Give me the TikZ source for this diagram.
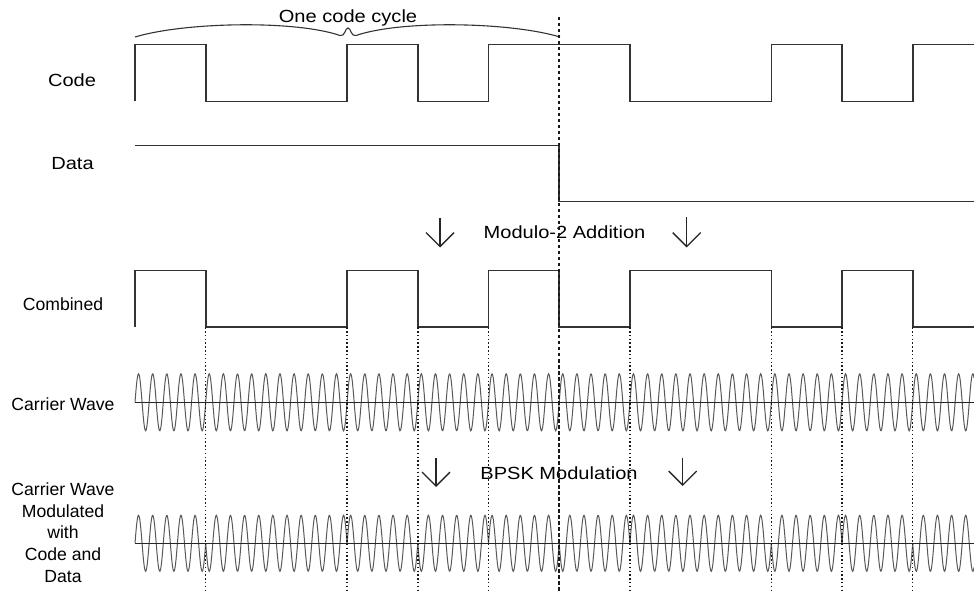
\documentclass[tikz,border=0pt]{standalone}
\usepackage{fontspec}
\setmainfont{Liberation Sans}
\newfontfamily\widefont{Liberation Sans}[FakeStretch=1.14]
\usetikzlibrary{arrows.meta}
\begin{document}
\begin{tikzpicture}[x=1pt,y=-1pt,
  wave/.style={draw=black!80,line width=1.6pt,line join=miter},
  carrier/.style={draw=black!65,line width=1pt},
  axisline/.style={draw=black!85,line width=1.4pt},
  dotline/.style={draw=black!90,line width=1.5pt,dash pattern=on 1.5pt off 2.3pt},
  dashline/.style={draw=black!90,line width=1.5pt,dash pattern=on 3.5pt off 2.5pt},
  lbl/.style={font=\fontsize{17.6}{21.8}\selectfont,text=black,inner sep=0pt,align=center},
  wlbl/.style={font=\widefont\fontsize{17.6}{21.8}\selectfont,text=black,inner sep=0pt},
  bigarrow/.style={draw=black!85,line width=1.3pt,-{Straight Barb[length=14pt,width=28pt]}},
  bracepath/.style={draw=black!80,line width=1.1pt}]
\useasboundingbox (0,0) rectangle (974,593);
\fill[white] (0,0) rectangle (974,593);

% labels
\node[wlbl] (lcode) at (72,80) {Code};
\node[wlbl] (ldata) at (72.5,164) {Data};
\node[lbl] (lcomb) at (63,304) {Combined};
\node[lbl] (lcarr) at (63,404) {Carrier Wave};
\node[lbl] (lmod) at (63,532.7) {Carrier Wave\\Modulated\\with\\Code and\\Data};
\node[wlbl] (lcycle) at (348,18) {One code cycle};
\node[wlbl] (lmodulo) at (564.5,232) {Modulo-2 Addition};
\node[wlbl] (lbpsk) at (559,473) {BPSK Modulation};

% brace
\draw[bracepath] (135,37) .. controls (185,22) and (295,20) .. (340,35.5)
  .. controls (345,37) and (345,28) .. (348,28)
  .. controls (351,28) and (351,37) .. (356,35.5)
  .. controls (401,20) and (510,22) .. (560,37);

% code
\draw[wave] (135,101.5) -- (135,44.5) -- (205.7,44.5) -- (205.7,101.5) -- (347.1,101.5) -- (347.1,44.5) -- (417.8,44.5) -- (417.8,101.5) -- (488.5,101.5) -- (488.5,44.5) -- (629.9,44.5) -- (629.9,101.5) -- (771.3,101.5) -- (771.3,44.5) -- (842,44.5) -- (842,101.5) -- (912.7,101.5) -- (912.7,44.5) -- (974,44.5);

% data
\draw[wave] (135,145.7) -- (559.2,145.7) -- (559.2,201.7) -- (974,201.7);

% combined
\draw[wave] (135,327.3) -- (135,270.7) -- (205.7,270.7) -- (205.7,327.3) -- (347.1,327.3) -- (347.1,270.7) -- (417.8,270.7) -- (417.8,327.3) -- (488.5,327.3) -- (488.5,270.7) -- (559.2,270.7) -- (559.2,327.3) -- (629.9,327.3) -- (629.9,270.7) -- (771.3,270.7) -- (771.3,327.3) -- (842,327.3) -- (842,270.7) -- (912.7,270.7) -- (912.7,327.3) -- (974,327.3);

% carrier waves
\foreach \k/\s in {0/1,1/-1,2/-1,3/1,4/-1,5/1,6/-1,7/1,8/1,9/-1,10/1,11/-1} {
  \pgfmathsetmacro\xs{135+70.7*\k}
  \pgfmathsetmacro\len{min(70.7,974-\xs)}
  \draw[carrier] plot[domain=0:\len,samples=120,variable=\t] ({\xs+\t},{402.3-28.5*sin(25.46*\t)});
  \draw[carrier] plot[domain=0:\len,samples=120,variable=\t] ({\xs+\t},{543.3-28*\s*sin(25.46*\t)});
}
\draw[axisline] (135,402.3) -- (974,402.3);
\draw[axisline] (135,543.3) -- (974,543.3);

% vertical guide lines
\foreach \xx in {205.7,347.1,417.8,488.5,629.9,771.3,842,912.7} {
  \draw[dotline] (\xx,327.3) -- (\xx,591);
}
\coordinate (dtop) at (559.2,17);
\coordinate (dbot) at (559.2,593);
\draw[dashline] (dtop) -- (dbot);

% arrows
\coordinate (a1t) at (440,218); \coordinate (a1b) at (440,247.5);
\coordinate (a2t) at (686.7,217.5); \coordinate (a2b) at (686.7,247.5);
\coordinate (a3t) at (436,458); \coordinate (a3b) at (436,487);
\coordinate (a4t) at (682.7,457.5); \coordinate (a4b) at (682.7,486);
\draw[bigarrow] (a1t) -- (a1b);
\draw[bigarrow] (a2t) -- (a2b);
\draw[bigarrow] (a3t) -- (a3b);
\draw[bigarrow] (a4t) -- (a4b);
\end{tikzpicture}
\end{document}
